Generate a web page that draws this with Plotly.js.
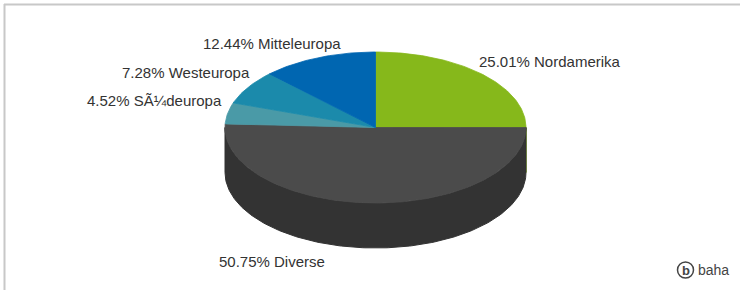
<!DOCTYPE html>
<html>
<head>
<meta charset="utf-8">
<script src="https://cdn.plot.ly/plotly-3.0.1.min.js"></script>
<style>
html,body{margin:0;padding:0;background:#fff;}
#chart{width:740px;height:290px;}
</style>
</head>
<body>
<div id="chart"></div>
<script>
// ---- data ----
const regions = ["Nordamerika", "Diverse", "SÃ¼deuropa", "Westeuropa", "Mitteleuropa"];
const shares  = [25.01, 50.75, 4.52, 7.28, 12.44];
const colors  = ["#86b81b", "#4b4b4b", "#4a9aa7", "#1b8aab", "#0066b1"];
const sideColor = "#333333";

// ---- geometry (layout, pixel space) ----
const cx = 375.5, cy = 127.5, rx = 150.5, ry = 75.5, depth = 45;
const labelPos = [
  {x: 477, y: 61, anchor: "left"},
  {x: 272, y: 261, anchor: "center"},
  {x: 224, y: 100, anchor: "right"},
  {x: 252, y: 72, anchor: "right"},
  {x: 343, y: 43, anchor: "right"}
];

function pt(deg, dy) {
  const a = deg * Math.PI / 180;
  return [cx + rx * Math.sin(a), cy - ry * Math.cos(a) + (dy || 0)];
}
function arc(a0, a1, dy) {
  const out = [];
  const n = Math.max(2, Math.ceil(Math.abs(a1 - a0)));
  for (let i = 0; i <= n; i++) out.push(pt(a0 + (a1 - a0) * i / n, dy));
  return out;
}

const total = shares.reduce((s, v) => s + v, 0);
const traces = [];

let start = 0;
const angles = shares.map(v => { const a0 = start; start += v / total * 360; return [a0, start]; });

// side wall (visible lower half)
angles.forEach(([a0, a1], i) => {
  const s0 = Math.max(a0, 90), s1 = Math.min(a1, 270);
  if (s1 <= s0) return;
  const pts = arc(s0, s1, 0).concat(arc(s1, s0, depth));
  pts.push(pts[0]);
  const c = i === 1 ? sideColor : colors[i];
  traces.push({
    type: "scatter", mode: "lines", fill: "toself",
    x: pts.map(p => p[0]), y: pts.map(p => p[1]),
    fillcolor: c, line: {width: 1, color: c},
    hoverinfo: "skip", showlegend: false
  });
});

// top faces
angles.forEach(([a0, a1], i) => {
  const pts = [[cx, cy]].concat(arc(a0, a1, 0));
  pts.push([cx, cy]);
  traces.push({
    type: "scatter", mode: "lines", fill: "toself",
    x: pts.map(p => p[0]), y: pts.map(p => p[1]),
    fillcolor: colors[i], line: {width: 0.8, color: colors[i]},
    name: regions[i], text: shares[i].toFixed(2) + "% " + regions[i],
    hoverinfo: "text", showlegend: false
  });
});

const annotations = regions.map((r, i) => ({
  x: labelPos[i].x, y: labelPos[i].y, xref: "x", yref: "y",
  text: shares[i].toFixed(2) + "% " + r, showarrow: false,
  xanchor: labelPos[i].anchor, yanchor: "middle",
  font: {family: "Liberation Sans, Arial, sans-serif", size: 15, color: "#333"}
}));
annotations.push({
  x: 731, y: 270, xref: "x", yref: "y", text: "baha", showarrow: false,
  xanchor: "right", yanchor: "middle",
  font: {family: "Liberation Sans, Arial, sans-serif", size: 14, color: "#444"}
});
annotations.push({
  x: 685.5, y: 270, xref: "x", yref: "y", text: "<b>b</b>", showarrow: false,
  xanchor: "center", yanchor: "middle",
  font: {family: "Liberation Sans, Arial, sans-serif", size: 13, color: "#444"}
});

const layout = {
  width: 740, height: 290,
  margin: {l: 0, r: 0, t: 0, b: 0},
  paper_bgcolor: "#fff", plot_bgcolor: "#fff",
  xaxis: {range: [0, 740], visible: false, fixedrange: true},
  yaxis: {range: [290, 0], visible: false, fixedrange: true},
  showlegend: false,
  annotations: annotations,
  shapes: [
    {type: "line", xref: "x", yref: "y", x0: 4, x1: 740, y0: 4.5, y1: 4.5, line: {color: "#c8c8c8", width: 2}},
    {type: "line", xref: "x", yref: "y", x0: 4.5, x1: 4.5, y0: 4, y1: 290, line: {color: "#c8c8c8", width: 2}},
    {type: "circle", xref: "x", yref: "y", x0: 677.5, x1: 693.5, y0: 262, y1: 278, line: {color: "#444", width: 1.5}}
  ]
};

Plotly.newPlot("chart", traces, layout, {displayModeBar: false, staticPlot: true});
</script>
</body>
</html>
